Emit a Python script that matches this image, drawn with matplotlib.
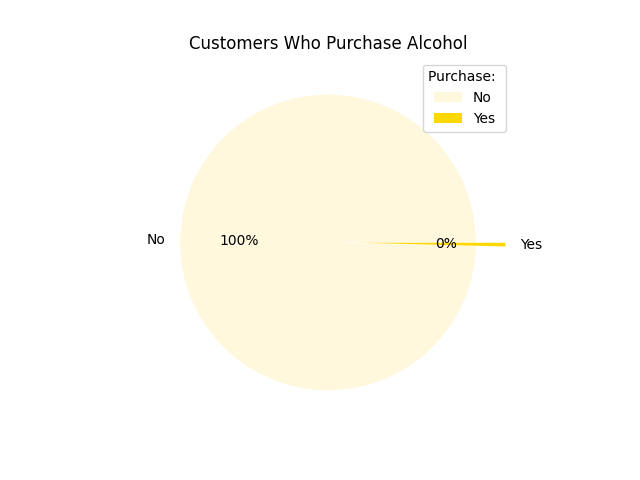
import matplotlib
matplotlib.use("Agg")
from matplotlib import pyplot as plt

# Purchase counts
labels = ["No", "Yes"]
counts = [996, 4]
colors = ["cornsilk", "gold"]
explode = [0, 0.2]

fig, ax = plt.subplots(figsize=(6.4, 4.8), dpi=100)
ax.pie(counts, labels=labels, colors=colors, explode=explode, autopct="%1.0f%%")
ax.set_title("Customers Who Purchase Alcohol")
ax.legend(title="Purchase: ", loc="upper right")
fig.savefig("out.png")
